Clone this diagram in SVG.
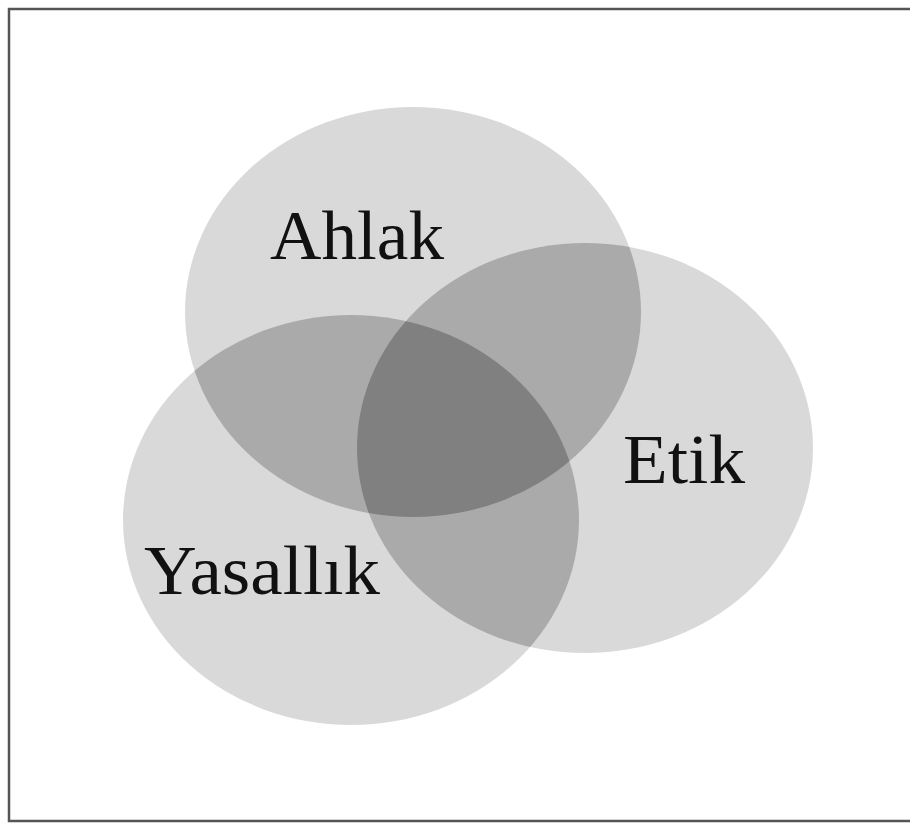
<svg xmlns="http://www.w3.org/2000/svg" width="910" height="824" viewBox="0 0 910 824">
<style>
.lbl{font-family:"Liberation Serif","Times New Roman",serif;font-size:70px;fill:#111}
.one{fill:#d9d9d9}
.two{fill:#aaaaaa}
.three{fill:#808080}
</style>
<defs>
<clipPath id="cA"><ellipse cx="413" cy="312" rx="228" ry="205"/></clipPath>
<clipPath id="cE"><ellipse cx="585" cy="448" rx="228" ry="205"/></clipPath>
<clipPath id="cY"><ellipse cx="351" cy="520" rx="228" ry="205"/></clipPath>
</defs>
<rect x="0" y="0" width="910" height="824" fill="#ffffff"/>
<rect x="9" y="9" width="910" height="812" fill="none" stroke="#555" stroke-width="2.5"/>
<g id="ahlak">
<ellipse class="one" cx="413" cy="312" rx="228" ry="205"/>
</g>
<g id="etik">
<ellipse class="one" cx="585" cy="448" rx="228" ry="205"/>
</g>
<g id="yasallik">
<ellipse class="one" cx="351" cy="520" rx="228" ry="205"/>
</g>
<g id="overlaps">
<g clip-path="url(#cA)"><ellipse class="two" cx="585" cy="448" rx="228" ry="205"/></g>
<g clip-path="url(#cA)"><ellipse class="two" cx="351" cy="520" rx="228" ry="205"/></g>
<g clip-path="url(#cE)"><ellipse class="two" cx="351" cy="520" rx="228" ry="205"/></g>
<g clip-path="url(#cA)"><g clip-path="url(#cE)"><ellipse class="three" cx="351" cy="520" rx="228" ry="205"/></g></g>
</g>
<g id="labels">
<text class="lbl" x="270" y="259" textLength="174" lengthAdjust="spacingAndGlyphs">Ahlak</text>
<text class="lbl" x="623" y="483" textLength="122" lengthAdjust="spacingAndGlyphs">Etik</text>
<text class="lbl" x="144" y="594" textLength="236" lengthAdjust="spacingAndGlyphs">Yasallık</text>
</g>
</svg>
